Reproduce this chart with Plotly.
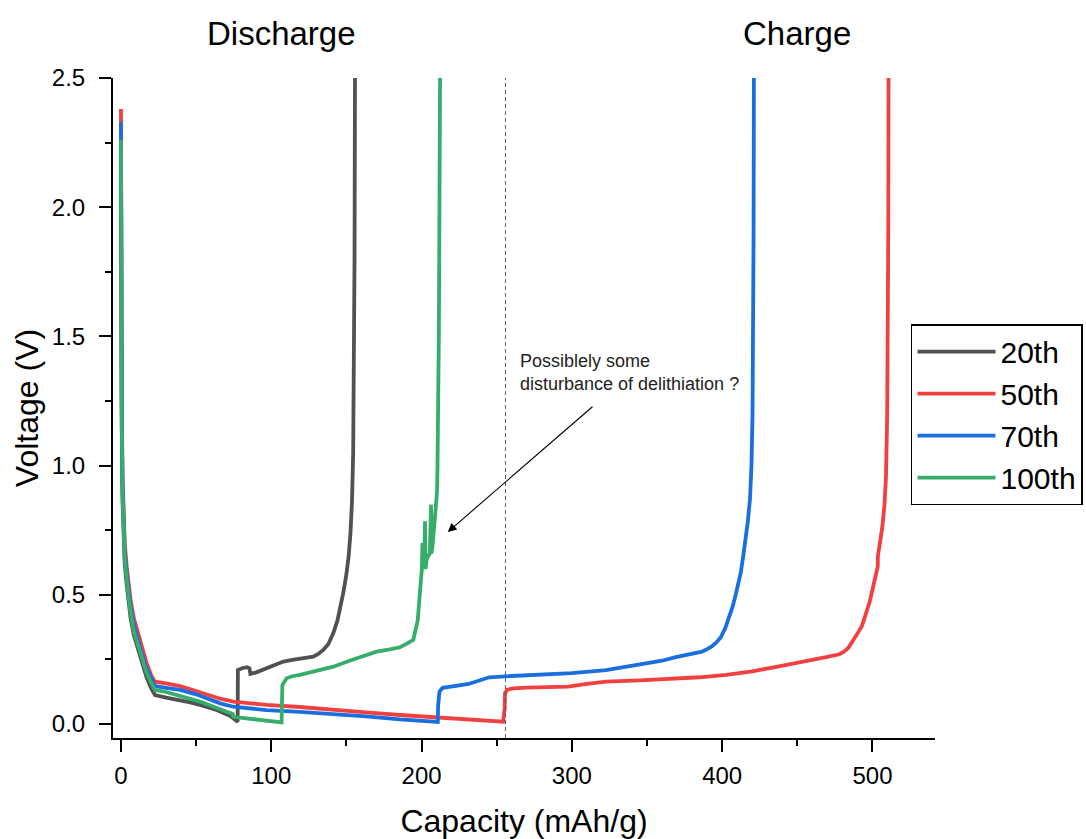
import plotly.graph_objects as go

# ---------------- data ----------------
drop_x = [0, 0.05, 0.2, 0.5, 1.0, 1.5, 2.5, 3.8, 5, 6.4, 8.5, 11.5, 14, 17.1, 20, 22.6]

x_20 = drop_x + [30, 39.3, 46, 52.6, 62, 72.5, 76, 77.6, 77.7, 77.8, 80.6, 83.9, 85.5, 86.1,
                 90, 97, 103, 108.1, 114, 119.1, 125, 128, 131, 134.6, 138, 141.3, 144,
                 146, 148, 150, 151.5, 152.7, 153.7, 154.5, 155, 155.4, 155.7]
v_20 = [2.26, 1.95, 1.55, 1.15, 0.87, 0.74, 0.62, 0.54, 0.47, 0.41, 0.345, 0.285, 0.235,
        0.18, 0.14, 0.112,
        0.102, 0.093, 0.084, 0.074, 0.058, 0.032, 0.018, 0.009, 0.1, 0.209, 0.216, 0.22,
        0.216, 0.194, 0.2, 0.216, 0.228, 0.242, 0.248, 0.252, 0.257, 0.261, 0.27, 0.287,
        0.31, 0.352, 0.40, 0.45, 0.51, 0.58, 0.65, 0.74, 0.86, 1.05, 1.3, 1.8, 2.5]

x_50 = drop_x + [30, 39.3, 50, 59.2, 66, 74.7, 85, 96.9, 119, 141.3, 163, 185.6, 210, 230,
                 254.2, 255.3, 255.5, 257, 261, 270, 280, 297.6, 310, 322.7, 345, 368.4,
                 385, 402.6, 420, 436.9, 448, 459.7, 470, 478, 481, 484, 487, 490, 493,
                 496, 498, 500, 502, 503.5, 503.6, 505, 506.5, 508, 509, 509.8, 510.2,
                 510.5, 510.7]
v_50 = [2.38, 2.1, 1.7, 1.3, 0.97, 0.82, 0.70, 0.61, 0.54, 0.48, 0.41, 0.345, 0.29, 0.235,
        0.19, 0.164,
        0.157, 0.147, 0.128, 0.112, 0.098, 0.087, 0.08, 0.074, 0.066, 0.057, 0.045, 0.035,
        0.025, 0.018, 0.009, 0.06, 0.119, 0.133, 0.138, 0.141, 0.143, 0.145, 0.155, 0.164,
        0.169, 0.174, 0.181, 0.19, 0.204, 0.222, 0.236, 0.248, 0.26, 0.27, 0.28, 0.295,
        0.32, 0.35, 0.38, 0.43, 0.47, 0.52, 0.57, 0.61, 0.65, 0.70, 0.76, 0.85, 0.96,
        1.2, 1.5, 1.9, 2.5]

x_70 = drop_x + [30, 39.3, 50, 59.2, 66, 74.7, 85, 96.9, 119, 141.3, 163, 185.6, 200, 210.8,
                 211.0, 211.9, 214, 219.9, 225, 231.3, 238, 245, 260, 277, 300, 322.7,
                 345.5, 360, 368.4, 378, 386.6, 390, 393, 396, 399, 402, 404.9, 407, 409,
                 411, 412.5, 414, 415.5, 417, 418.5, 419.5, 420.2, 420.6, 420.9, 421.1]
v_70 = [2.33, 2.05, 1.65, 1.25, 0.93, 0.79, 0.67, 0.585, 0.515, 0.455, 0.385, 0.32, 0.27,
        0.215, 0.175, 0.147,
        0.14, 0.132, 0.115, 0.093, 0.08, 0.067, 0.06, 0.054, 0.047, 0.039, 0.03, 0.018,
        0.013, 0.008, 0.07, 0.125, 0.14, 0.147, 0.15, 0.155, 0.168, 0.181, 0.186, 0.19,
        0.197, 0.209, 0.229, 0.245, 0.258, 0.27, 0.28, 0.29, 0.30, 0.315, 0.335, 0.37,
        0.416, 0.455, 0.50, 0.545, 0.59, 0.65, 0.71, 0.78, 0.87, 1.0, 1.2, 1.5, 1.9, 2.5]

x_100 = drop_x + [30, 37.0, 45, 52.6, 62, 72.5, 74.3, 74.7, 80, 90, 100, 106.9, 107.1, 107.4,
                  110.2, 114, 119.1, 130, 141.3, 152, 163.5, 170.1, 178, 185.6, 190, 194.5,
                  197.4, 198.5, 199.6, 200.2, 200.6, 200.9, 201.8, 202.3, 202.6, 203.5,
                  204.5, 205.5, 206.3, 206.6, 207.5, 208.5, 209.5, 210.3, 210.6, 211.0,
                  211.5, 211.9, 212.3]
v_100 = [2.26, 2.0, 1.6, 1.2, 0.9, 0.76, 0.64, 0.56, 0.49, 0.43, 0.36, 0.30, 0.25, 0.197,
         0.16, 0.132,
         0.124, 0.112, 0.1, 0.087, 0.066, 0.041, 0.039, 0.028, 0.024, 0.018, 0.012, 0.006,
         0.08, 0.151, 0.177, 0.185, 0.19, 0.205, 0.222, 0.245, 0.267, 0.28, 0.288, 0.297,
         0.31, 0.326, 0.40, 0.48, 0.56, 0.60, 0.70, 0.62, 0.64, 0.785, 0.60, 0.64, 0.65,
         0.66, 0.849, 0.66, 0.70, 0.76, 0.82, 0.90, 1.0, 1.15, 1.5, 2.0, 2.5]

series_names = ["20th", "50th", "70th", "100th"]
series_x = [x_20, x_50, x_70, x_100]
series_v = [v_20, v_50, v_70, v_100]
series_colors = ["#515151", "#F14040", "#1A6FDF", "#37AD6B"]

x_ticks = [0, 100, 200, 300, 400, 500]
y_ticks = [0.0, 0.5, 1.0, 1.5, 2.0, 2.5]
boundary_x = 255.8

FONT = "Arial, 'Liberation Sans', sans-serif"

fig = go.Figure()
for name, xs, vs, col in zip(series_names, series_x, series_v, series_colors):
    fig.add_trace(go.Scatter(x=xs, y=vs, mode="lines", name=name,
                             line=dict(color=col, width=3.8)))

# dashed boundary between discharge and charge
fig.add_shape(type="line", xref="x", yref="paper", x0=boundary_x, x1=boundary_x,
              y0=0, y1=1, line=dict(color="#555555", width=1, dash="4px,3px"))

# arrow + note
fig.add_annotation(x=217.4, y=0.743, ax=314.7, ay=1.233, axref="x", ayref="y",
                   xref="x", yref="y", text="", showarrow=True, arrowhead=2,
                   arrowsize=1.6, arrowwidth=1.1, arrowcolor="black")
fig.add_annotation(x=264, y=1.36, xref="x", yref="y", xanchor="left", yanchor="middle",
                   align="left", showarrow=False,
                   text="Possiblely some<br>disturbance of delithiation ?",
                   font=dict(family=FONT, size=18, color="#222222"))

# top labels
fig.add_annotation(x=107, y=1.098, xref="x", yref="paper", text="Discharge",
                   showarrow=False, font=dict(family=FONT, size=33, color="black"))
fig.add_annotation(x=450, y=1.098, xref="x", yref="paper", text="Charge",
                   showarrow=False, font=dict(family=FONT, size=33, color="black"))

axis_common = dict(showline=True, linewidth=2, linecolor="black", ticks="outside",
                   ticklen=12, tickwidth=2, tickcolor="black", showgrid=False,
                   zeroline=False, mirror=False,
                   tickfont=dict(family=FONT, size=24, color="black"))

fig.update_xaxes(range=[-5.3, 541.6], tickvals=x_ticks, ticklabelstandoff=3,
                 minor=dict(dtick=50, tick0=0, ticklen=6, tickwidth=2, ticks="outside",
                            tickcolor="black"),
                 title=dict(text="Capacity (mAh/g)", font=dict(family=FONT, size=32, color="black"),
                            standoff=28),
                 **axis_common)
fig.update_yaxes(range=[-0.054, 2.5], tickvals=y_ticks, tickformat=".1f",
                 ticklabelstandoff=9,
                 minor=dict(dtick=0.25, tick0=0, ticklen=6, tickwidth=2, ticks="outside",
                            tickcolor="black"),
                 title=dict(text="Voltage (V)", font=dict(family=FONT, size=32, color="black"),
                            standoff=4),
                 **axis_common)

fig.update_layout(
    width=1086, height=839,
    margin=dict(l=113, r=151, t=78, b=101, autoexpand=False),
    paper_bgcolor="white", plot_bgcolor="white",
    font=dict(family=FONT, color="black"),
    legend=dict(x=0.9708, y=0.627, xanchor="left", yanchor="top",
                bgcolor="white", bordercolor="black", borderwidth=1.5,
                font=dict(family=FONT, size=30, color="black"),
                itemwidth=78, tracegroupgap=0),
    showlegend=True,
)

fig.write_html("out.html")
